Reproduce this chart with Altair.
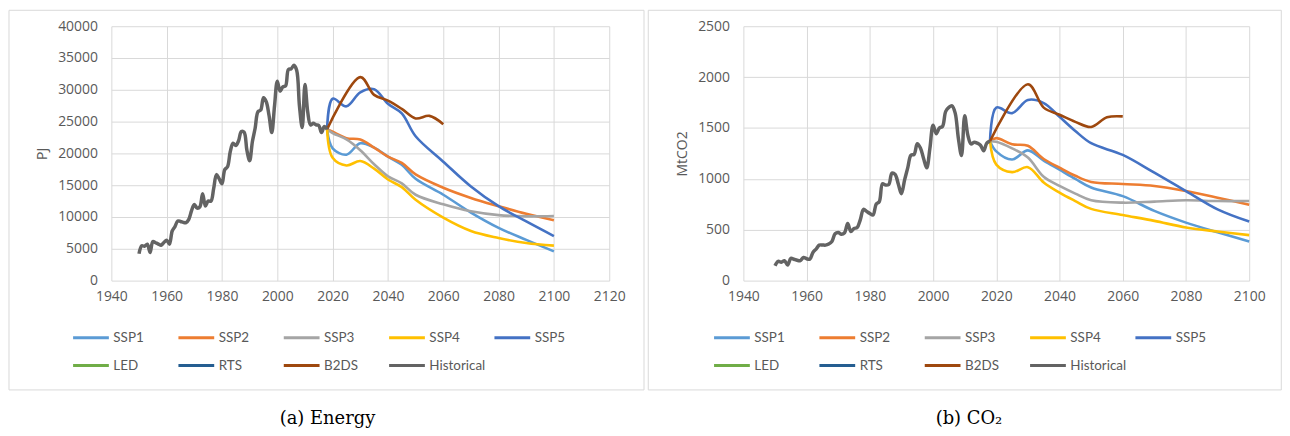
import altair as alt
import pandas as pd

# ---------------- data ----------------
hist_years = list(range(1950, 2019))
hist_energy = [4220, 5470, 5400, 5730, 4430, 6150, 5950, 5750, 5570, 6000,
               6350, 5730, 7800, 8500, 9370, 9300, 9150, 9110, 9630, 11000,
               11980, 11400, 11600, 13650, 11720, 12500, 12500, 14500, 16670, 16000,
               15210, 17450, 17900, 20300, 21610, 21250, 22000, 23440, 23330, 20500,
               18850, 21880, 24000, 26560, 26820, 28750, 28130, 26000, 23280, 27500,
               31350, 29790, 30470, 30625, 33180, 33300, 33850, 33070, 27500, 24060,
               30830, 26500, 24480, 24740, 24500, 24380, 23280, 24220, 23800]
hist_co2 = [145, 189, 180, 196, 153, 218, 210, 200, 196, 228,
            215, 210, 277, 310, 349, 350, 349, 360, 385, 460,
            473, 456, 470, 561, 482, 512, 522, 600, 701, 680,
            660, 645, 750, 776, 952, 939, 945, 1056, 1043, 950,
            854, 990, 1110, 1232, 1240, 1346, 1304, 1200, 1108, 1300,
            1526, 1444, 1500, 1516, 1663, 1702, 1718, 1646, 1400, 1229,
            1620, 1430, 1343, 1360, 1351, 1330, 1276, 1351, 1370]

scen_years = [2018, 2020, 2025, 2030, 2035, 2040, 2045, 2050, 2060, 2070, 2080, 2090, 2100]
energy_ssp1 = [23800, 20800, 19800, 21600, 20900, 19500, 18200, 16000, 13500, 10700, 8300, 6400, 4600]
energy_ssp2 = [23800, 23400, 22400, 22200, 20900, 19500, 18500, 16700, 14600, 13000, 11700, 10500, 9500]
energy_ssp3 = [23800, 23200, 22200, 20500, 18300, 16400, 15300, 13500, 12000, 10900, 10300, 10100, 10150]
energy_ssp4 = [23800, 19300, 18100, 18800, 17600, 15900, 14700, 12700, 9900, 7800, 6700, 5900, 5500]
energy_ssp5 = [23800, 28600, 27400, 29600, 30100, 27800, 26300, 22700, 18700, 14800, 11700, 9300, 7000]

co2_ssp1 = [1370, 1270, 1190, 1280, 1180, 1090, 1000, 915, 830, 685, 570, 475, 385]
co2_ssp2 = [1370, 1400, 1340, 1325, 1195, 1110, 1030, 970, 950, 930, 880, 815, 745]
co2_ssp3 = [1370, 1365, 1300, 1210, 1020, 930, 855, 790, 766, 776, 789, 782, 782]
co2_ssp4 = [1370, 1140, 1066, 1115, 965, 865, 782, 705, 645, 587, 522, 482, 447]
co2_ssp5 = [1370, 1700, 1646, 1775, 1745, 1610, 1470, 1350, 1235, 1060, 880, 700, 580]

b2ds_years = [2018, 2030, 2035, 2040, 2045, 2050, 2055, 2060]
energy_b2ds = [23800, 32000, 29200, 28300, 27000, 25500, 25900, 24600]
co2_b2ds = [1370, 1930, 1700, 1630, 1560, 1510, 1605, 1614]

series_names = ["SSP1", "SSP2", "SSP3", "SSP4", "SSP5", "LED", "RTS", "B2DS", "Historical"]
series_colors = ["#5B9BD5", "#ED7D31", "#A5A5A5", "#FFC000", "#4472C4",
                 "#70AD47", "#255E91", "#9E480E", "#636363"]


def build(hist, ssps, b2ds):
    rows = []
    for y, v in zip(hist_years, hist):
        rows.append({"year": y, "value": v, "series": "Historical"})
    for name, vals in zip(["SSP1", "SSP2", "SSP3", "SSP4", "SSP5"], ssps):
        for y, v in zip(scen_years, vals):
            rows.append({"year": y, "value": v, "series": name})
    for y, v in zip(b2ds_years, b2ds):
        rows.append({"year": y, "value": v, "series": "B2DS"})
    return pd.DataFrame(rows)


df_energy = build(hist_energy, [energy_ssp1, energy_ssp2, energy_ssp3, energy_ssp4, energy_ssp5], energy_b2ds)
df_co2 = build(hist_co2, [co2_ssp1, co2_ssp2, co2_ssp3, co2_ssp4, co2_ssp5], co2_b2ds)

AXIS_FONT = "Open Sans"
GRAY_TXT = "#595959"
GRID = "#D9D9D9"


def panel(df, xmax, ymax, ystep, ytitle, caption, width, legend_x, frame, cap_x):
    xs = alt.X("year:Q", scale=alt.Scale(domain=[1940, xmax], nice=False),
               axis=alt.Axis(values=list(range(1940, xmax + 1, 20)), format="d", title=None,
                             grid=True, gridColor=GRID, domain=False, ticks=False,
                             labelFont=AXIS_FONT, labelFontSize=14, labelColor=GRAY_TXT,
                             labelPadding=9, labelFlush=False))
    ys = alt.Y("value:Q", scale=alt.Scale(domain=[0, ymax], nice=False),
               axis=alt.Axis(values=list(range(0, ymax + 1, ystep)), format="d", title=ytitle,
                             grid=True, gridColor=GRID, domain=False, ticks=False,
                             labelFont=AXIS_FONT, labelFontSize=14, labelColor=GRAY_TXT,
                             labelPadding=14, titleFont=AXIS_FONT, titleFontSize=14,
                             titleFontWeight="normal", titleColor=GRAY_TXT, titlePadding=8))
    color = alt.Color("series:N",
                      scale=alt.Scale(domain=series_names, range=series_colors),
                      legend=alt.Legend(orient="none", legendX=legend_x, legendY=294,
                                        direction="horizontal", columns=5, title=None,
                                        symbolType="stroke", symbolSize=1296,
                                        symbolStrokeWidth=3, labelFont="Lato",
                                        labelFontSize=13.5, labelColor=GRAY_TXT,
                                        labelOffset=3, gridAlign="all",
                                        columnPadding=2, rowPadding=2, padding=0))
    base = alt.Chart(df).encode(x=xs, y=ys, color=color, order=alt.Order("year:Q"))
    ssp = base.transform_filter(
        alt.FieldOneOfPredicate(field="series", oneOf=["SSP1", "SSP2", "SSP3", "SSP4", "SSP5"])
    ).mark_line(strokeWidth=2.6, interpolate="catmull-rom")
    b2 = base.transform_filter(alt.datum.series == "B2DS").mark_line(
        strokeWidth=2.6, interpolate="catmull-rom")
    hist = base.transform_filter(alt.datum.series == "Historical").mark_line(
        strokeWidth=3.5, interpolate="catmull-rom")
    frame_df = pd.DataFrame({"k": [0]})
    box = alt.Chart(frame_df).mark_rect(filled=False, stroke=GRID, strokeWidth=1).encode(
        x=alt.value(frame[0]), x2=alt.value(frame[1]),
        y=alt.value(frame[2]), y2=alt.value(frame[3]))
    cap = alt.Chart(pd.DataFrame({"t": [caption]})).mark_text(
        font="DejaVu Serif", fontSize=18, color="#000000", align="center",
        baseline="alphabetic").encode(text="t:N", x=alt.value(cap_x), y=alt.value(400))
    return alt.layer(box, ssp, b2, hist, cap).properties(width=width, height=256)


left = panel(df_energy, 2120, 40000, 5000, "PJ", "(a) Energy", 501, -40,
             (-103, 536, -16, 366), 217.5)
right = panel(df_co2, 2100, 2500, 500, "MtCO2", "(b) CO\u2082", 509, -31,
              (-95.7, 541.3, -16, 366), 227)

chart = alt.hconcat(left, right, spacing=2).resolve_scale(color="independent").properties(
    padding=0).configure_view(stroke=None)

chart.save("out.html", embed_options={"renderer": "svg", "actions": False})
